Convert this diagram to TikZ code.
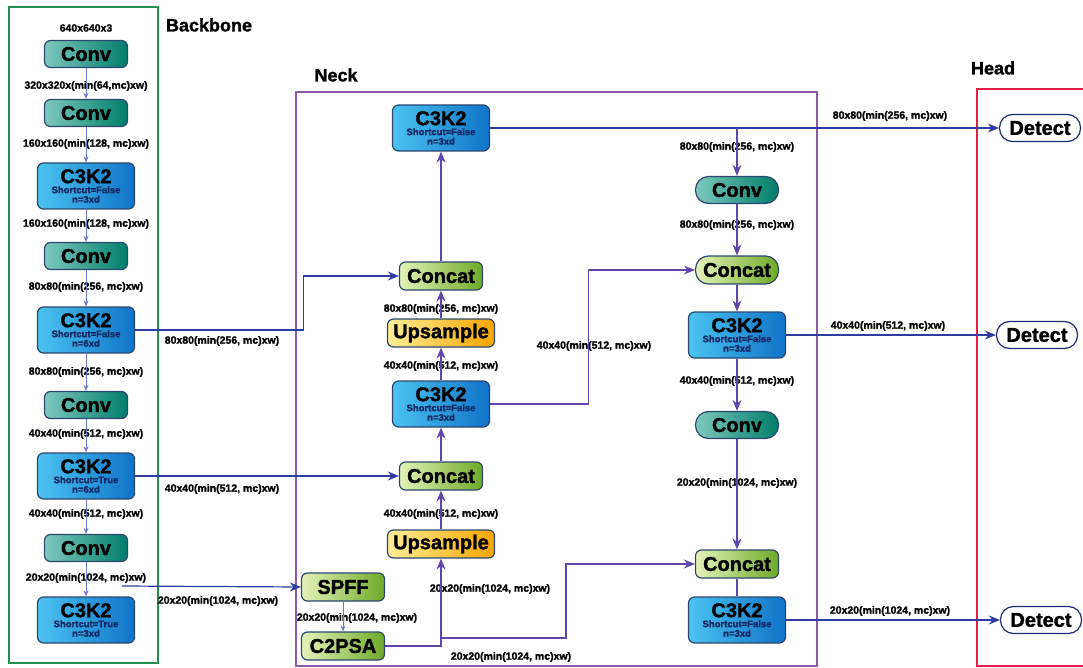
\documentclass[tikz,border=0pt]{standalone}
\usepackage{fontspec}
\setmainfont{Liberation Sans}[BoldFeatures={FakeBold=1.5}]
\usetikzlibrary{arrows.meta,positioning,calc}
\definecolor{bbgreen}{RGB}{35,145,75}
\definecolor{neckpurple}{RGB}{140,90,170}
\definecolor{headred}{RGB}{230,30,70}
\definecolor{linkblue}{RGB}{45,60,160}
\definecolor{linkpurple}{RGB}{95,70,170}
\definecolor{thinblue}{RGB}{110,120,200}
\definecolor{edgegray}{RGB}{45,70,110}
\definecolor{subnavy}{RGB}{20,40,100}
\definecolor{convL}{RGB}{125,200,190}
\definecolor{convR}{RGB}{0,125,105}
\definecolor{ckL}{RGB}{75,195,240}
\definecolor{ckR}{RGB}{15,115,200}
\definecolor{catL}{RGB}{228,242,185}
\definecolor{catR}{RGB}{110,170,40}
\definecolor{upL}{RGB}{255,238,150}
\definecolor{upR}{RGB}{245,165,0}
\newcommand{\ckt}[2]{C3K2\\[-10pt]{\color{subnavy}\fontsize{9.5}{9.5}\selectfont Shortcut=#1}\\[-10.5pt]{\color{subnavy}\fontsize{9.5}{9.5}\selectfont n=#2}}

\begin{document}
\begin{tikzpicture}[x=1pt, y=-1pt,
    blk/.style={draw=edgegray, line width=1.2pt, rounded corners=6pt, inner sep=0pt,
        font=\bfseries\fontsize{20}{20}\selectfont, align=center},
    conv/.style={blk, left color=convL, right color=convR, minimum width=83pt, minimum height=27pt},
    ckblk/.style={blk, left color=ckL, right color=ckR, minimum width=97pt, minimum height=46pt},
    concat/.style={blk, left color=catL, right color=catR, minimum width=83pt, minimum height=28pt},
    upsmp/.style={blk, left color=upL, right color=upR, minimum width=107pt, minimum height=28pt},
    detect/.style={blk, fill=white, draw=linkblue!70!black, rounded corners=13pt, minimum width=81pt, minimum height=27pt},
    pill/.style={rounded corners=13pt},
    lab/.style={font=\bfseries\fontsize{10.5}{10.5}\selectfont, inner sep=1pt},
    title/.style={font=\bfseries\fontsize{18}{18}\selectfont, inner sep=0pt},
    thinarr/.style={-{Stealth[length=6pt,width=5pt]}, thinblue, line width=0.8pt},
    link/.style={-{Stealth[length=11pt,width=9pt]}, linkblue, line width=1.2pt},
    uplink/.style={link, linkpurple}]
    \useasboundingbox (0,0) rectangle (1083,668);

    % Frames
    \draw[bbgreen, line width=2.5pt] (9,7) rectangle (158,663);
    \draw[neckpurple, line width=2.5pt] (296,92) rectangle (817,666);
    \draw[headred, line width=2.5pt] (977,89) rectangle (1100,666);
    \node[title] (tbb) at (209,25) {Backbone};
    \node[title] (tneck) at (336,75) {Neck};
    \node[title] (thead) at (993,68) {Head};

    % Backbone
    \node[lab] (in) at (86,28) {640x640x3};
    \node[conv] (bconv1) at (86,54) {Conv};
    \node[lab] (b1) at (86,86) {320x320x(min(64,mc)xw)};
    \node[conv] (bconv2) at (86,113) {Conv};
    \node[lab] (b2) at (86,144) {160x160(min(128, mc)xw)};
    \node[ckblk] (bck1) at (86,186) {\ckt{False}{3xd}};
    \node[lab] (b3) at (86,224) {160x160(min(128, mc)xw)};
    \node[conv] (bconv3) at (86,256) {Conv};
    \node[lab] (b4) at (86,287) {80x80(min(256, mc)xw)};
    \node[ckblk] (bck2) at (86,330) {\ckt{False}{6xd}};
    \node[lab] (b5) at (86,372) {80x80(min(256, mc)xw)};
    \node[conv] (bconv4) at (86,405) {Conv};
    \node[lab] (b6) at (86,434) {40x40(min(512, mc)xw)};
    \node[ckblk] (bck3) at (86,476) {\ckt{True}{6xd}};
    \node[lab] (b7) at (86,514) {40x40(min(512, mc)xw)};
    \node[conv] (bconv5) at (86,548) {Conv};
    \node[lab] (b8) at (86,578) {20x20(min(1024, mc)xw)};
    \node[ckblk] (bck4) at (86,620) {\ckt{True}{3xd}};
    \foreach \a/\b in {bconv1/bconv2, bconv2/bck1, bck1/bconv3, bconv3/bck2,
        bck2/bconv4, bconv4/bck3, bck3/bconv5, bconv5/bck4}
        \draw[thinarr] (\a) -- (\b);

    % Neck, left column
    \node[ckblk] (nck1) at (441,128) {\ckt{False}{3xd}};
    \node[concat] (ncat1) at (441,276) {Concat};
    \node[lab] (n1) at (441,309) {80x80(min(256, mc)xw)};
    \node[upsmp] (nup1) at (441,333) {Upsample};
    \node[lab] (n2) at (441,366) {40x40(min(512, mc)xw)};
    \node[ckblk] (nck2) at (441,404) {\ckt{False}{3xd}};
    \node[concat] (ncat2) at (441,476) {Concat};
    \node[lab] (n3) at (441,514) {40x40(min(512, mc)xw)};
    \node[upsmp] (nup2) at (441,544) {Upsample};
    \node[concat] (spff) at (343,587) {SPFF};
    \node[lab] (n4) at (490,589) {20x20(min(1024, mc)xw)};
    \node[lab] (n5) at (357,618) {20x20(min(1024, mc)xw)};
    \node[concat] (c2psa) at (343,646) {C2PSA};
    \node[lab] (n6) at (511,657) {20x20(min(1024, mc)xw)};

    % Neck, right column
    \node[conv, pill] (rconv1) at (737,190) {Conv};
    \node[lab] (r1) at (737,147) {80x80(min(256, mc)xw)};
    \node[lab] (r2) at (737,225) {80x80(min(256, mc)xw)};
    \node[concat, pill] (rcat1) at (737,270) {Concat};
    \node[ckblk] (rck1) at (737,335) {\ckt{False}{3xd}};
    \node[lab] (r3) at (737,381) {40x40(min(512, mc)xw)};
    \node[conv, pill] (rconv2) at (737,425) {Conv};
    \node[lab] (r4) at (737,483) {20x20(min(1024, mc)xw)};
    \node[concat] (rcat2) at (737,564) {Concat};
    \node[ckblk] (rck2) at (737,620) {\ckt{False}{3xd}};
    \node[lab] (r5) at (594,346) {40x40(min(512, mc)xw)};

    % Head
    \node[detect] (det1) at (1040,128) {Detect};
    \node[detect] (det2) at (1037,335) {Detect};
    \node[detect] (det3) at (1041,620) {Detect};
    \node[lab] (h1) at (890,116) {80x80(min(256, mc)xw)};
    \node[lab] (h2) at (888,326) {40x40(min(512, mc)xw)};
    \node[lab] (h3) at (890,611) {20x20(min(1024, mc)xw)};

    % Backbone to neck
    \node[lab] (x1) at (222,341) {80x80(min(256, mc)xw)};
    \node[lab] (x2) at (222,489) {40x40(min(512, mc)xw)};
    \node[lab] (x3) at (218,601) {20x20(min(1024, mc)xw)};
    \coordinate (sp) at (122,586);
    \draw[link] (bck2.east) -- ++(168,0) |- (ncat1.west);
    \draw[link] (bck3.east) -- (ncat2.west);
    \draw[link] (sp) -- (spff.west);

    % Neck links
    \draw[thinarr] (spff) -- (c2psa);
    \draw[uplink] (c2psa.east) -| (nup2.south);
    \coordinate (br) at (441,638);
    \draw[uplink] (br) -- ++(125,0) |- (rcat2.west);
    \foreach \a/\b in {nup2/ncat2, ncat2/nck2, nck2/nup1, nup1/ncat1, ncat1/nck1}
        \draw[uplink] (\a) -- (\b);
    \draw[link] (nck1.east) -- (det1.west);
    \coordinate (tb) at (737,128);
    \draw[uplink] (tb) -- (rconv1.north);
    \draw[uplink] (nck2.east) -- ++(98,0) |- (rcat1.west);
    \foreach \a/\b in {rconv1/rcat1, rcat1/rck1, rck1/rconv2, rconv2/rcat2}
        \draw[uplink] (\a) -- (\b);
    \draw[linkpurple, line width=1.2pt] (rcat2) -- (rck2);

    % To head
    \draw[link] (rck1.east) -- (det2.west);
    \draw[link] (rck2.east) -- (det3.west);
\end{tikzpicture}
\end{document}
